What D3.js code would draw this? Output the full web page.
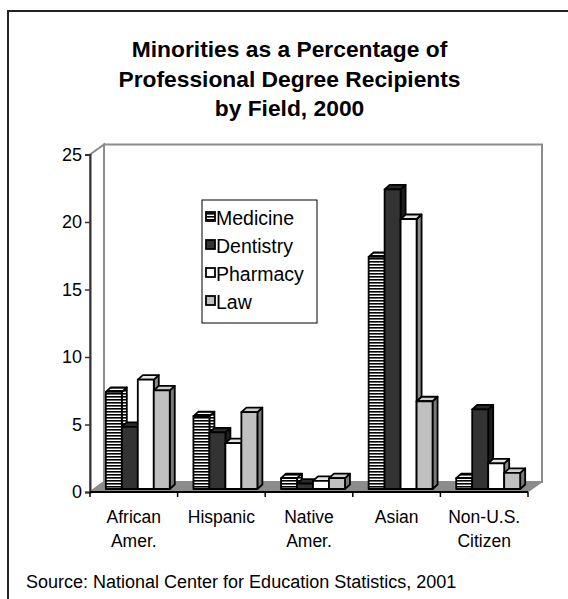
<!DOCTYPE html>
<html><head><meta charset="utf-8">
<script src="https://cdn.jsdelivr.net/npm/d3@7"></script>
<style>body{margin:0;background:#fff;} text{font-family:"Liberation Sans",Arial,sans-serif;}</style>
</head><body>
<svg id="chart" width="568" height="599"></svg>
<script>
const categories = ["African Amer.", "Hispanic", "Native Amer.", "Asian", "Non-U.S. Citizen"];
const categoryLines = [["African","Amer."],["Hispanic"],["Native","Amer."],["Asian"],["Non-U.S.","Citizen"]];
const seriesNames = ["Medicine", "Dentistry", "Pharmacy", "Law"];
const medicine  = [7.2, 5.4, 0.8, 17.2, 0.8];
const dentistry = [4.6, 4.2, 0.4, 22.2, 5.9];
const pharmacy  = [8.1, 3.4, 0.6, 20.0, 1.9];
const law       = [7.3, 5.7, 0.8, 6.5, 1.2];
const yTicks = [0, 5, 10, 15, 20, 25];
const titleLines = ["Minorities as a Percentage of", "Professional Degree Recipients", "by Field, 2000"];
const sourceText = "Source: National Center for Education Statistics, 2001";

const seriesValues = [medicine, dentistry, pharmacy, law];
const svg = d3.select("#chart");
const defs = svg.append("defs");
const pat = defs.append("pattern").attr("id","stripes").attr("patternUnits","userSpaceOnUse")
  .attr("width",4).attr("height",3);
pat.append("rect").attr("width",4).attr("height",3).attr("fill","#fff");
pat.append("rect").attr("width",4).attr("height",1.6).attr("fill","#000");

const styles = {
  Medicine:  {front:"url(#stripes)", top:"url(#stripes)", side:"url(#stripes)"},
  Dentistry: {front:"#333333", top:"#2a2a2a", side:"#1e1e1e"},
  Pharmacy:  {front:"#ffffff", top:"#e6e6e6", side:"#8c8c8c"},
  Law:       {front:"#c0c0c0", top:"#cfcfcf", side:"#7a7a7a"}
};

// outer border
svg.append("path").attr("d","M8,600 L8,11 L570,11").attr("fill","none").attr("stroke","#222").attr("stroke-width",2);

// title
svg.append("g").selectAll("text").data(titleLines).join("text")
  .attr("x",289.5).attr("y",(d,i)=>57+i*29.5).attr("text-anchor","middle")
  .attr("font-size","22.8px").attr("font-weight","bold").attr("fill","#000").text(d=>d);

const x = d3.scaleBand().domain(categories).range([90,528]);
const y = d3.scaleLinear().domain([0,25]).range([492,154.5]);
const xs = d3.scaleBand().domain(seriesNames).range([0,x.bandwidth()]).paddingInner(0).paddingOuter(0.74);
const D = {dx:14, dy:-10};
const F = {dx:4, dy:-3};
const B = {dx:5, dy:-4.5};

const g = svg.append("g");
const x0 = x.range()[0], x1 = x.range()[1];
const y0 = y(0), yT = y(25);
// back wall
g.append("rect").attr("x",x0+D.dx).attr("y",yT+D.dy).attr("width",x1-x0).attr("height",y0-yT)
  .attr("fill","#fff").attr("stroke","#8c8c8c").attr("stroke-width",2);
// left wall
g.append("path").attr("d",`M${x0},${yT} L${x0+D.dx},${yT+D.dy} L${x0+D.dx},${y0+D.dy} L${x0},${y0} Z`)
  .attr("fill","#fff").attr("stroke","#8c8c8c").attr("stroke-width",2);
// floor
g.append("path").attr("d",`M${x0},${y0} L${x1},${y0} L${x1+D.dx},${y0+D.dy} L${x0+D.dx},${y0+D.dy} Z`)
  .attr("fill","#8c8c8c").attr("stroke","#8c8c8c").attr("stroke-width",1);

// bars
const bars = g.append("g");
categories.forEach((c,ci)=>{
  seriesNames.forEach((s,si)=>{
    const v = seriesValues[si][ci];
    const w = xs.bandwidth();
    const bx0 = x(c)+xs(s)+F.dx, bx1 = bx0+w;
    const top = y(v)+F.dy, bot = y(0)+F.dy;
    const st = styles[s];
    const bg = bars.append("g").attr("stroke","#000").attr("stroke-width",1.8).attr("stroke-linejoin","round");
    bg.append("path").attr("d",`M${bx1},${top} L${bx1+B.dx},${top+B.dy} L${bx1+B.dx},${bot+B.dy} L${bx1},${bot} Z`).attr("fill",st.side);
    bg.append("path").attr("d",`M${bx0},${top} L${bx0+B.dx},${top+B.dy} L${bx1+B.dx},${top+B.dy} L${bx1},${top} Z`).attr("fill",st.top);
    bg.append("rect").attr("x",bx0).attr("y",top).attr("width",w).attr("height",bot-top).attr("fill",st.front);
  });
});

// y axis
const ya = svg.append("g").attr("transform",`translate(${x0},0)`)
  .call(d3.axisLeft(y).tickValues(yTicks).tickSize(5).tickPadding(3));
ya.select(".domain").attr("stroke","#333").attr("stroke-width",2);
ya.selectAll(".tick line").attr("stroke","#333").attr("stroke-width",1.5);
ya.selectAll("text").attr("font-size","18px").attr("fill","#000").attr("font-family","Liberation Sans, Arial, sans-serif");

// x axis line + ticks at boundaries
svg.append("line").attr("x1",x0).attr("x2",x1).attr("y1",y0).attr("y2",y0).attr("stroke","#000").attr("stroke-width",2);
const bounds = categories.map(c=>x(c)).concat([x1]);
svg.append("g").selectAll("line").data(bounds).join("line")
  .attr("x1",d=>d).attr("x2",d=>d).attr("y1",y0).attr("y2",y0+5).attr("stroke","#000").attr("stroke-width",1.5);

// category labels
const cl = svg.append("g");
categories.forEach((c,ci)=>{
  const t = cl.append("text").attr("x",x(c)+x.bandwidth()/2).attr("y",523).attr("text-anchor","middle")
    .attr("font-size","17.5px").attr("fill","#000");
  categoryLines[ci].forEach((ln,li)=>{
    t.append("tspan").attr("x",x(c)+x.bandwidth()/2).attr("dy",li===0?0:24).text(ln);
  });
});

// legend
const lg = svg.append("g");
lg.append("rect").attr("x",202).attr("y",200).attr("width",115).attr("height",123).attr("fill","#fff").attr("stroke","#000").attr("stroke-width",1);
seriesNames.forEach((s,i)=>{
  const by = 225+i*28;
  lg.append("rect").attr("x",206).attr("y",by-13).attr("width",9).attr("height",9)
    .attr("fill",styles[s].front).attr("stroke","#000").attr("stroke-width",1.8);
  lg.append("text").attr("x",216).attr("y",by).attr("font-size","19.5px").attr("fill","#000").text(s);
});

// source
svg.append("text").attr("x",26).attr("y",588).attr("font-size","18px").attr("fill","#000").text(sourceText);
</script>
</body></html>
